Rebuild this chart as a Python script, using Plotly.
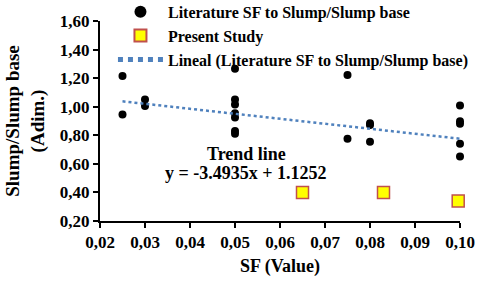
import plotly.graph_objects as go

lit_sf = [0.025, 0.025, 0.03, 0.03, 0.05, 0.05, 0.05, 0.05, 0.05, 0.05, 0.05,
          0.075, 0.075, 0.08, 0.08, 0.08, 0.10, 0.10, 0.10, 0.10, 0.10]
lit_slump = [1.215, 0.945, 1.05, 1.005, 1.265, 1.05, 1.015, 0.955, 0.925, 0.83, 0.81,
             1.222, 0.775, 0.885, 0.872, 0.755, 1.008, 0.898, 0.88, 0.74, 0.652]
present_sf = [0.065, 0.083, 0.0996]
present_slump = [0.40, 0.40, 0.34]
trend_slope = -3.4935
trend_intercept = 1.1252
trend_x = [0.025, 0.10]
trend_y = [trend_slope * x + trend_intercept for x in trend_x]

font_family = "Liberation Serif, Times New Roman, serif"

fig = go.Figure()
fig.add_trace(go.Scatter(x=lit_sf, y=lit_slump, mode="markers",
                         name="Literature SF to Slump/Slump base",
                         marker=dict(color="black", size=8)))
fig.add_trace(go.Scatter(x=present_sf, y=present_slump, mode="markers",
                         name="Present Study",
                         marker=dict(color="#FFFF00", size=12, symbol="square",
                                     line=dict(color="#C0504D", width=1.5))))
fig.add_trace(go.Scatter(x=trend_x, y=trend_y, mode="lines",
                         name="Lineal (Literature SF to Slump/Slump base)",
                         line=dict(color="#4F81BD", width=2.5, dash="dot")))

bold = dict(family=font_family, color="black", weight="bold")

fig.add_annotation(x=0.0525, y=0.67, xref="x", yref="y", showarrow=False,
                   text="Trend line", font=dict(size=18, **bold))
fig.add_annotation(x=0.0525, y=0.537, xref="x", yref="y", showarrow=False,
                   text="y = -3.4935x + 1.1252", font=dict(size=18, **bold))

fig.update_layout(
    width=479, height=282,
    margin=dict(l=100, r=19, t=0, b=61, autoexpand=False),
    paper_bgcolor="white", plot_bgcolor="white",
    separators=", ",
    font=dict(size=17, **bold),
    showlegend=True,
    legend=dict(x=0.036, y=1.023, xanchor="left", yanchor="top",
                bgcolor="rgba(0,0,0,0)", font=dict(size=16, **bold),
                tracegroupgap=0, itemsizing="constant", itemwidth=45),
    xaxis=dict(range=[0.02, 0.10], tickvals=[0.02, 0.03, 0.04, 0.05, 0.06, 0.07, 0.08, 0.09, 0.10],
               tickformat=".2f", showgrid=False, zeroline=False,
               showline=True, linecolor="black", linewidth=2,
               ticks="outside", ticklen=5, tickwidth=2, tickcolor="black",
               tickfont=dict(size=17, **bold),
               title=dict(text="SF (Value)", font=dict(size=18, **bold), standoff=8)),
    yaxis=dict(range=[0.2, 1.6], tickvals=[0.2, 0.4, 0.6, 0.8, 1.0, 1.2, 1.4, 1.6],
               domain=[0, 200 / 221],
               tickformat=".2f", showgrid=False, zeroline=False,
               showline=True, linecolor="black", linewidth=2,
               ticks="outside", ticklen=5, tickwidth=2, tickcolor="black",
               tickfont=dict(size=17, **bold),
               title=dict(text="Slump/Slump base<br>(Adim.)", font=dict(size=19, **bold), standoff=10)),
)
for tr in fig.data:
    tr.cliponaxis = False

fig.write_html("out.html", config={"displayModeBar": False},
               post_script="document.body.style.margin='0';")
